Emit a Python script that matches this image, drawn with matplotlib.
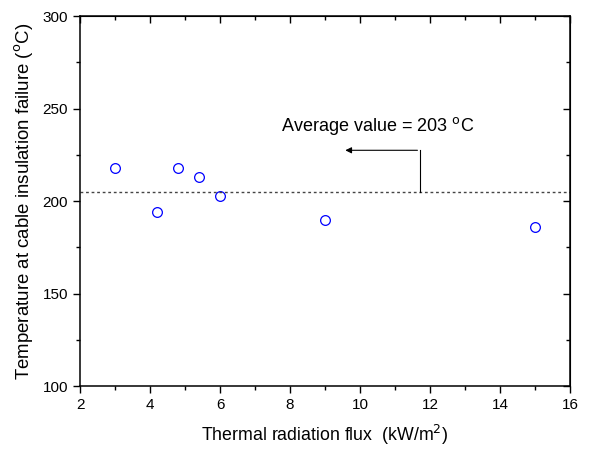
import matplotlib
matplotlib.use("Agg")
import matplotlib.pyplot as plt
from matplotlib.ticker import MultipleLocator

plt.rcParams['font.family'] = ['Liberation Sans', 'DejaVu Sans']

flux = [3, 4.2, 4.8, 5.4, 6, 9, 15]
temp = [218, 194, 218, 213, 203, 190, 186]
avg_line = 205
avg_label = "Average value = 203 $^{\\mathrm{o}}$C"

fig = plt.figure(figsize=(5.95, 4.5), dpi=100)
ax = fig.add_axes([0.1345, 0.142, 0.8235, 0.822])

ax.plot(flux, temp, 'o', mfc='none', mec='blue', ms=7, mew=0.9)
ax.axhline(avg_line, color='#444444', ls=(0, (2, 2)), lw=1)

# bent arrow from the average line to the label
ax.plot([11.7, 11.7], [avg_line, 227.5], color='black', lw=0.8)
ax.annotate('', xy=(9.5, 227.5), xytext=(11.72, 227.5),
            arrowprops=dict(arrowstyle='-|>', color='black', lw=0.8,
                            mutation_scale=9))
ax.text(7.75, 240.5, avg_label, fontsize=13, va='center', ha='left')

ax.set_xlim(2, 16)
ax.set_ylim(100, 300)
ax.xaxis.set_major_locator(MultipleLocator(2))
ax.xaxis.set_minor_locator(MultipleLocator(1))
ax.yaxis.set_major_locator(MultipleLocator(50))
ax.yaxis.set_minor_locator(MultipleLocator(25))

ax.tick_params(which='both', direction='out', top=False, right=False,
               labelsize=11, width=1)
ax.tick_params(which='major', length=5)
ax.tick_params(which='minor', length=3)
for s in ax.spines.values():
    s.set_linewidth(1.1)

# inward ticks on top and right
ax2 = ax.secondary_xaxis('top')
ax2.set_xticks(range(2, 17, 2))
ax2.xaxis.set_minor_locator(MultipleLocator(1))
ax2.tick_params(which='both', direction='in', labeltop=False, width=1)
ax2.tick_params(which='major', length=5)
ax2.tick_params(which='minor', length=3)
ax3 = ax.secondary_yaxis('right')
ax3.set_yticks(range(100, 301, 50))
ax3.yaxis.set_minor_locator(MultipleLocator(25))
ax3.tick_params(which='both', direction='in', labelright=False, width=1)
ax3.tick_params(which='major', length=5)
ax3.tick_params(which='minor', length=3)

ax.set_xlabel("Thermal radiation flux  (kW/m$^{\\mathrm{2}}$)", fontsize=12.8, labelpad=8)
ax.set_ylabel("Temperature at cable insulation failure ($^{\\mathrm{o}}$C)", fontsize=13.4, labelpad=5)

plt.savefig("out.png", dpi=100)
